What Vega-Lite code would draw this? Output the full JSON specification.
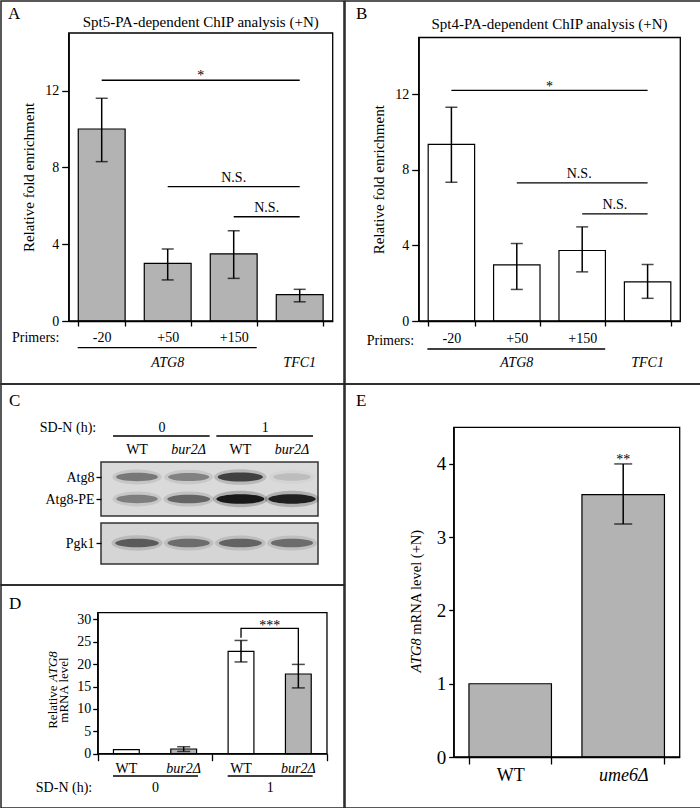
{
"$schema":"https://vega.github.io/schema/vega-lite/v6.json",
"padding":0,
"background":"white",
"bounds":"full",
"spacing":-1.5,
"datasets":{
 "chipA":[{"primer":"-20","mean":10.0,"lo":8.3,"hi":11.6},{"primer":"+50","mean":3.0,"lo":2.14,"hi":3.75},{"primer":"+150","mean":3.5,"lo":2.22,"hi":4.7},{"primer":"TFC1","mean":1.37,"lo":1.0,"hi":1.65}],
 "sigA":[{"id":"s1","from":"-20","to":"TFC1","y":12.54,"label":"*","at":"+150"},{"id":"s2","from":"+50","to":"TFC1","y":7.0,"label":"N.S.","at":"+150"},{"id":"s3","from":"+150","to":"TFC1","y":5.43,"label":"N.S.","at":"TFC1"}],
 "chipB":[{"primer":"-20","mean":9.34,"lo":7.34,"hi":11.31},{"primer":"+50","mean":2.97,"lo":1.67,"hi":4.1},{"primer":"+150","mean":3.73,"lo":2.6,"hi":4.98},{"primer":"TFC1","mean":2.07,"lo":1.2,"hi":2.99}],
 "sigB":[{"id":"s1","from":"-20","to":"TFC1","y":12.2,"label":"*","at":"+150"},{"id":"s2","from":"+50","to":"TFC1","y":7.31,"label":"N.S.","at":"+150"},{"id":"s3","from":"+150","to":"TFC1","y":5.67,"label":"N.S.","at":"TFC1"}],
 "genes":[{"gene":"ATG8","at":"+50"},{"gene":"TFC1","at":"TFC1"}],
 "lanes":[{"lane":"0-WT","time":"0","strain":"WT"},{"lane":"0-bur2","time":"0","strain":"bur2Δ"},{"lane":"1-WT","time":"1","strain":"WT"},{"lane":"1-bur2","time":"1","strain":"bur2Δ"}],
 "bands":[
  {"lane":"0-WT","protein":"Atg8","intensity":0.45},{"lane":"0-bur2","protein":"Atg8","intensity":0.4},{"lane":"1-WT","protein":"Atg8","intensity":0.75},{"lane":"1-bur2","protein":"Atg8","intensity":0.12},
  {"lane":"0-WT","protein":"Atg8-PE","intensity":0.42},{"lane":"0-bur2","protein":"Atg8-PE","intensity":0.55},{"lane":"1-WT","protein":"Atg8-PE","intensity":1.0},{"lane":"1-bur2","protein":"Atg8-PE","intensity":0.95},
  {"lane":"0-WT","protein":"Pgk1","intensity":0.6},{"lane":"0-bur2","protein":"Pgk1","intensity":0.5},{"lane":"1-WT","protein":"Pgk1","intensity":0.55},{"lane":"1-bur2","protein":"Pgk1","intensity":0.5}],
 "times":[{"time":"0","first":"0-WT","last":"0-bur2"},{"time":"1","first":"1-WT","last":"1-bur2"}],
 "mrnaD":[{"time":"0","strain":"WT","mean":0.9,"lo":null,"hi":null},{"time":"0","strain":"bur2Δ","mean":1.05,"lo":0.5,"hi":1.55},{"time":"1","strain":"WT","mean":22.86,"lo":20.5,"hi":25.3},{"time":"1","strain":"bur2Δ","mean":17.8,"lo":14.7,"hi":19.95}],
 "bracketD":[{"step":1,"time":"1","strain":"WT","v":25.9},{"step":2,"time":"1","strain":"WT","v":28.0},{"step":3,"time":"1","strain":"bur2Δ","v":28.0},{"step":4,"time":"1","strain":"bur2Δ","v":19.95}],
 "mrnaE":[{"strain":"WT","mean":1.0,"lo":null,"hi":null},{"strain":"ume6Δ","mean":3.58,"lo":3.18,"hi":4.0}]
},
"hconcat":[
 {"vconcat":[
  {"width":343,"height":383,
   "title":{"text":"A","offset":-22,"dx":7},
   "layer":[
    {"data":{"name":"chipA"},"mark":{"type":"bar","fill":"#b3b3b3","stroke":"black","strokeWidth":1.2},
     "encoding":{
      "x":{"field":"primer","type":"nominal","sort":null,"scale":{"domain":["-20","+50","+150","TFC1"],"range":[67.7,331.7],"paddingInner":0.29,"paddingOuter":0.145},"axis":{"offset":-63,"title":null,"tickBand":"extent","labelAngle":0,"labelExpr":"datum.value == 'TFC1' ? '' : datum.value","tickSize":5,"labelPadding":4}},
      "y":{"field":"mean","type":"quantitative","scale":{"domain":[0,15],"range":[320,32],"nice":false},"axis":{"offset":-67.7,"values":[0,4,8,12],"title":"Relative fold enrichment","tickSize":7,"labelPadding":3,"titlePadding":8}}}},
    {"data":{"values":[{}]},"mark":{"type":"rect","fillOpacity":0,"stroke":"black","strokeWidth":1.3,"xOffset":-33,"x2Offset":33},
     "encoding":{"x":{"datum":"-20","type":"nominal"},"x2":{"datum":"TFC1"},"y":{"datum":0,"type":"quantitative"},"y2":{"datum":15}}},
    {"data":{"name":"chipA"},"mark":{"type":"rule","strokeWidth":1.5,"color":"black"},"encoding":{"x":{"field":"primer","type":"nominal"},"y":{"field":"lo","type":"quantitative"},"y2":{"field":"hi"}}},
    {"data":{"name":"chipA"},"mark":{"type":"tick","orient":"horizontal","size":12,"thickness":1.5,"color":"black"},"encoding":{"x":{"field":"primer","type":"nominal"},"y":{"field":"lo","type":"quantitative"}}},
    {"data":{"name":"chipA"},"mark":{"type":"tick","orient":"horizontal","size":12,"thickness":1.5,"color":"black"},"encoding":{"x":{"field":"primer","type":"nominal"},"y":{"field":"hi","type":"quantitative"}}},
    {"data":{"name":"sigA"},"mark":{"type":"rule","strokeWidth":1.3,"color":"black"},"encoding":{"x":{"field":"from","type":"nominal"},"x2":{"field":"to"},"y":{"field":"y","type":"quantitative"}}},
    {"data":{"name":"sigA"},"transform":[{"filter":"datum.id == 's1'"}],"mark":{"type":"text","dx":-33,"dy":0,"baseline":"alphabetic","fontSize":14,"fill":"black"},"encoding":{"x":{"field":"at","type":"nominal"},"y":{"field":"y","type":"quantitative"},"text":{"field":"label"}}},
    {"data":{"name":"sigA"},"transform":[{"filter":"datum.id == 's3'"}],"mark":{"type":"text","dx":-33,"dy":-5,"baseline":"alphabetic","fontSize":14,"fill":"black"},"encoding":{"x":{"field":"at","type":"nominal"},"y":{"field":"y","type":"quantitative"},"text":{"field":"label"}}},
    {"data":{"name":"sigA"},"transform":[{"filter":"datum.id == 's2'"}],"mark":{"type":"text","dx":0,"dy":-5,"baseline":"alphabetic","fontSize":14,"fill":"black"},"encoding":{"x":{"field":"at","type":"nominal"},"y":{"field":"y","type":"quantitative"},"text":{"field":"label"}}},
    {"data":{"values":[{}]},"mark":{"type":"text","dx":-33,"dy":-6,"baseline":"alphabetic","fontSize":15},"encoding":{"x":{"datum":"+150","type":"nominal"},"y":{"datum":15,"type":"quantitative"},"text":{"value":"Spt5-PA-dependent ChIP analysis (+N)"}}},
    {"data":{"values":[{}]},"mark":{"type":"text","dx":-66,"dy":17,"baseline":"middle","fontSize":14},"encoding":{"x":{"datum":"-20","type":"nominal"},"y":{"datum":0,"type":"quantitative"},"text":{"value":"Primers:"}}},
    {"data":{"values":[{}]},"mark":{"type":"rule","strokeWidth":1.3,"color":"black","xOffset":-24,"x2Offset":23,"yOffset":26.7},"encoding":{"x":{"datum":"-20","type":"nominal"},"x2":{"datum":"+150"},"y":{"datum":0,"type":"quantitative"}}},
    {"data":{"name":"genes"},"mark":{"type":"text","dy":42,"baseline":"middle","fontSize":14,"fontStyle":"italic"},"encoding":{"x":{"field":"at","type":"nominal"},"y":{"datum":0,"type":"quantitative"},"text":{"field":"gene"}}}
   ]},
  {"width":343,"height":201,
   "title":{"text":"C","offset":-26,"dx":8},
   "resolve":{"scale":{"opacity":"independent","size":"independent"}},
   "layer":[
    {"data":{"values":[{}]},"mark":{"type":"rect","fill":"#dadada","stroke":"#333","strokeWidth":1.5,"xOffset":-36,"x2Offset":26,"yOffset":-15,"y2Offset":17},
     "encoding":{"x":{"datum":"0-WT","type":"nominal","scale":{"type":"point","domain":["0-WT","0-bur2","1-WT","1-bur2"],"range":[136,291],"padding":0},"axis":null},"x2":{"datum":"1-bur2"},
      "y":{"datum":"Atg8","type":"nominal","scale":{"type":"point","domain":["time","lane","Atg8","Atg8-PE","gap","Pgk1"],"range":[49,159],"padding":0},"axis":{"offset":-100,"values":["Atg8","Atg8-PE","Pgk1"],"title":null,"domain":false,"tickSize":5,"labelPadding":2}},"y2":{"datum":"Atg8-PE"}}},
    {"data":{"values":[{}]},"mark":{"type":"rect","fill":"#d5d5d5","stroke":"#333","strokeWidth":1.5,"xOffset":-36,"x2Offset":26,"yOffset":-20,"y2Offset":21},
     "encoding":{"x":{"datum":"0-WT","type":"nominal","scale":{"type":"point"},"axis":null},"x2":{"datum":"1-bur2"},"y":{"datum":"Pgk1","type":"nominal","scale":{"type":"point"}},"y2":{"datum":"Pgk1"}}},
    {"data":{"name":"bands"},"mark":{"type":"point","shape":"M-1,0A1,0.3,0,1,0,1,0A1,0.3,0,1,0,-1,0Z","filled":true,"color":"#111","strokeWidth":0},
     "encoding":{"x":{"field":"lane","type":"nominal","scale":{"type":"point"},"axis":null},"y":{"field":"protein","type":"nominal","scale":{"type":"point"}},
      "opacity":{"field":"intensity","type":"quantitative","scale":{"domain":[0,1],"range":[0,0.22]},"legend":null},
      "size":{"field":"intensity","type":"quantitative","scale":{"domain":[0,1],"range":[2000,3000]},"legend":null}}},
    {"data":{"name":"bands"},"mark":{"type":"point","shape":"M-1,0A1,0.2,0,1,0,1,0A1,0.2,0,1,0,-1,0Z","filled":true,"color":"#111","strokeWidth":0},
     "encoding":{"x":{"field":"lane","type":"nominal","scale":{"type":"point"},"axis":null},"y":{"field":"protein","type":"nominal","scale":{"type":"point"}},
      "opacity":{"field":"intensity","type":"quantitative","scale":{"domain":[0,1],"range":[0,0.95]},"legend":null},
      "size":{"field":"intensity","type":"quantitative","scale":{"domain":[0,1],"range":[1300,2300]},"legend":null}}},
    {"data":{"name":"times"},"mark":{"type":"text","dx":25,"dy":-5,"baseline":"middle","fontSize":14},"encoding":{"x":{"field":"first","type":"nominal","scale":{"type":"point"},"axis":null},"y":{"datum":"time","type":"nominal","scale":{"type":"point"}},"text":{"field":"time"}}},
    {"data":{"name":"times"},"mark":{"type":"rule","color":"black","strokeWidth":1.3,"xOffset":-24,"x2Offset":21,"yOffset":3},"encoding":{"x":{"field":"first","type":"nominal","scale":{"type":"point"},"axis":null},"x2":{"field":"last"},"y":{"datum":"time","type":"nominal","scale":{"type":"point"}}}},
    {"data":{"values":[{}]},"mark":{"type":"text","dx":-69,"dy":-5,"baseline":"middle","fontSize":14},"encoding":{"x":{"datum":"0-WT","type":"nominal","scale":{"type":"point"},"axis":null},"y":{"datum":"time","type":"nominal","scale":{"type":"point"}},"text":{"value":"SD-N (h):"}}},
    {"data":{"name":"lanes"},"transform":[{"filter":"datum.strain == 'WT'"}],"mark":{"type":"text","dy":-5,"baseline":"middle","fontSize":14},"encoding":{"x":{"field":"lane","type":"nominal","scale":{"type":"point"},"axis":null},"y":{"datum":"lane","type":"nominal","scale":{"type":"point"}},"text":{"field":"strain"}}},
    {"data":{"name":"lanes"},"transform":[{"filter":"datum.strain != 'WT'"}],"mark":{"type":"text","dy":-5,"baseline":"middle","fontSize":14,"fontStyle":"italic"},"encoding":{"x":{"field":"lane","type":"nominal","scale":{"type":"point"},"axis":null},"y":{"datum":"lane","type":"nominal","scale":{"type":"point"}},"text":{"field":"strain"}}}
   ]},
  {"width":343,"height":223,
   "title":{"text":"D","offset":-28,"dx":8},
   "layer":[
    {"data":{"name":"mrnaD"},"mark":{"type":"bar","stroke":"black","strokeWidth":1.2},
     "encoding":{
      "x":{"field":"time","type":"nominal","scale":{"domain":["0","1"],"range":[96.7,326],"paddingInner":0,"paddingOuter":0},"axis":{"offset":-54.3,"title":null,"tickBand":"extent","labelAngle":0,"tickSize":7,"labelPadding":20}},
      "xOffset":{"field":"strain","type":"nominal","scale":{"domain":["WT","bur2Δ"],"paddingInner":0.55,"paddingOuter":0.275}},
      "y":{"field":"mean","type":"quantitative","scale":{"domain":[0,31.5],"range":[168.7,27.7],"nice":false},"axis":{"offset":-96.7,"values":[0,5,10,15,20,25,30],"tickCount":7,"labelOverlap":false,"title":null,"tickSize":5,"labelPadding":2}},
      "fill":{"field":"strain","type":"nominal","scale":{"domain":["WT","bur2Δ"],"range":["white","#b3b3b3"]},"legend":null}}},
    {"data":{"values":[{}]},"mark":{"type":"rect","fillOpacity":0,"stroke":"black","strokeWidth":1.3,"xOffset":-57.3,"x2Offset":57.3},
     "encoding":{"x":{"datum":"0","type":"nominal"},"x2":{"datum":"1"},"y":{"datum":0,"type":"quantitative"},"y2":{"datum":31.5}}},
    {"data":{"name":"mrnaD"},"mark":{"type":"rule","strokeWidth":1.5,"color":"black"},"encoding":{"x":{"field":"time","type":"nominal"},"xOffset":{"field":"strain","type":"nominal"},"y":{"field":"lo","type":"quantitative"},"y2":{"field":"hi"}}},
    {"data":{"name":"mrnaD"},"mark":{"type":"tick","orient":"horizontal","size":13,"thickness":1.5,"color":"black"},"encoding":{"x":{"field":"time","type":"nominal"},"xOffset":{"field":"strain","type":"nominal"},"y":{"field":"lo","type":"quantitative"}}},
    {"data":{"name":"mrnaD"},"mark":{"type":"tick","orient":"horizontal","size":13,"thickness":1.5,"color":"black"},"encoding":{"x":{"field":"time","type":"nominal"},"xOffset":{"field":"strain","type":"nominal"},"y":{"field":"hi","type":"quantitative"}}},
    {"data":{"name":"bracketD"},"mark":{"type":"line","color":"black","strokeWidth":1.3},"encoding":{"x":{"field":"time","type":"nominal"},"xOffset":{"field":"strain","type":"nominal"},"y":{"field":"v","type":"quantitative"},"order":{"field":"step","type":"quantitative"}}},
    {"data":{"values":[{}]},"mark":{"type":"text","dy":2,"baseline":"alphabetic","fontSize":14,"fill":"black"},"encoding":{"x":{"datum":"1","type":"nominal"},"y":{"datum":28,"type":"quantitative"},"text":{"value":"***"}}},
    {"data":{"name":"mrnaD"},"transform":[{"filter":"datum.strain == 'WT'"}],"mark":{"type":"text","dy":15.3,"baseline":"middle","fontSize":14},"encoding":{"x":{"field":"time","type":"nominal"},"xOffset":{"field":"strain","type":"nominal"},"y":{"datum":0,"type":"quantitative"},"text":{"field":"strain"}}},
    {"data":{"name":"mrnaD"},"transform":[{"filter":"datum.strain != 'WT'"}],"mark":{"type":"text","dy":15.3,"baseline":"middle","fontSize":14,"fontStyle":"italic"},"encoding":{"x":{"field":"time","type":"nominal"},"xOffset":{"field":"strain","type":"nominal"},"y":{"datum":0,"type":"quantitative"},"text":{"field":"strain"}}},
    {"data":{"name":"times"},"mark":{"type":"rule","color":"black","strokeWidth":1.3,"xOffset":-42,"x2Offset":43,"yOffset":22.3},"encoding":{"x":{"field":"time","type":"nominal"},"x2":{"field":"time"},"y":{"datum":0,"type":"quantitative"}}},
    {"data":{"values":[{}]},"mark":{"type":"text","dx":-91,"dy":34.3,"baseline":"middle","fontSize":14},"encoding":{"x":{"datum":"0","type":"nominal"},"y":{"datum":0,"type":"quantitative"},"text":{"value":"SD-N (h):"}}},
    {"data":{"values":[{}]},"mark":{"type":"text","angle":270,"align":"left","baseline":"middle","fontSize":13,"dx":24.9,"dy":-102},"encoding":{"x":{"datum":"0","type":"nominal"},"y":{"datum":0,"type":"quantitative"},"text":{"value":"Relative"}}},
    {"data":{"values":[{}]},"mark":{"type":"text","angle":270,"align":"right","baseline":"middle","fontSize":13,"fontStyle":"italic","dx":102.5,"dy":-102},"encoding":{"x":{"datum":"0","type":"nominal"},"y":{"datum":0,"type":"quantitative"},"text":{"value":"ATG8"}}},
    {"data":{"values":[{}]},"mark":{"type":"text","angle":270,"align":"center","baseline":"middle","fontSize":13,"dx":63.7,"dy":-91},"encoding":{"x":{"datum":"0","type":"nominal"},"y":{"datum":0,"type":"quantitative"},"text":{"value":"mRNA level"}}}
   ]}
 ],"spacing":0,"bounds":"flush"},
 {"vconcat":[
  {"width":356,"height":383,
   "title":{"text":"B","offset":-22,"dx":11},
   "layer":[
    {"data":{"name":"chipB"},"mark":{"type":"bar","fill":"white","stroke":"black","strokeWidth":1.2},
     "encoding":{
      "x":{"field":"primer","type":"nominal","sort":null,"scale":{"domain":["-20","+50","+150","TFC1"],"range":[73.7,335.3],"paddingInner":0.29,"paddingOuter":0.145},"axis":{"offset":-63,"title":null,"tickBand":"extent","labelAngle":0,"labelExpr":"datum.value == 'TFC1' ? '' : datum.value","tickSize":5,"labelPadding":5}},
      "y":{"field":"mean","type":"quantitative","scale":{"domain":[0,15],"range":[320,36.5],"nice":false},"axis":{"offset":-73.7,"values":[0,4,8,12],"title":"Relative fold enrichment","tickSize":7,"labelPadding":3,"titlePadding":8}}}},
    {"data":{"values":[{}]},"mark":{"type":"rect","fillOpacity":0,"stroke":"black","strokeWidth":1.3,"xOffset":-32.7,"x2Offset":32.7},
     "encoding":{"x":{"datum":"-20","type":"nominal"},"x2":{"datum":"TFC1"},"y":{"datum":0,"type":"quantitative"},"y2":{"datum":15}}},
    {"data":{"name":"chipB"},"mark":{"type":"rule","strokeWidth":1.5,"color":"black"},"encoding":{"x":{"field":"primer","type":"nominal"},"y":{"field":"lo","type":"quantitative"},"y2":{"field":"hi"}}},
    {"data":{"name":"chipB"},"mark":{"type":"tick","orient":"horizontal","size":12,"thickness":1.5,"color":"black"},"encoding":{"x":{"field":"primer","type":"nominal"},"y":{"field":"lo","type":"quantitative"}}},
    {"data":{"name":"chipB"},"mark":{"type":"tick","orient":"horizontal","size":12,"thickness":1.5,"color":"black"},"encoding":{"x":{"field":"primer","type":"nominal"},"y":{"field":"hi","type":"quantitative"}}},
    {"data":{"name":"sigB"},"mark":{"type":"rule","strokeWidth":1.3,"color":"black"},"encoding":{"x":{"field":"from","type":"nominal"},"x2":{"field":"to"},"y":{"field":"y","type":"quantitative"}}},
    {"data":{"name":"sigB"},"transform":[{"filter":"datum.id == 's1'"}],"mark":{"type":"text","dx":-32.7,"dy":1,"baseline":"alphabetic","fontSize":14,"fill":"black"},"encoding":{"x":{"field":"at","type":"nominal"},"y":{"field":"y","type":"quantitative"},"text":{"field":"label"}}},
    {"data":{"name":"sigB"},"transform":[{"filter":"datum.id == 's3'"}],"mark":{"type":"text","dx":-32.7,"dy":-5,"baseline":"alphabetic","fontSize":14,"fill":"black"},"encoding":{"x":{"field":"at","type":"nominal"},"y":{"field":"y","type":"quantitative"},"text":{"field":"label"}}},
    {"data":{"name":"sigB"},"transform":[{"filter":"datum.id == 's2'"}],"mark":{"type":"text","dx":-3,"dy":-5,"baseline":"alphabetic","fontSize":14,"fill":"black"},"encoding":{"x":{"field":"at","type":"nominal"},"y":{"field":"y","type":"quantitative"},"text":{"field":"label"}}},
    {"data":{"values":[{}]},"mark":{"type":"text","dx":-32.7,"dy":-9,"baseline":"alphabetic","fontSize":15},"encoding":{"x":{"datum":"+150","type":"nominal"},"y":{"datum":15,"type":"quantitative"},"text":{"value":"Spt4-PA-dependent ChIP analysis (+N)"}}},
    {"data":{"values":[{}]},"mark":{"type":"text","dx":-61,"dy":20,"baseline":"middle","fontSize":14},"encoding":{"x":{"datum":"-20","type":"nominal"},"y":{"datum":0,"type":"quantitative"},"text":{"value":"Primers:"}}},
    {"data":{"values":[{}]},"mark":{"type":"rule","strokeWidth":1.3,"color":"black","xOffset":-24,"x2Offset":23,"yOffset":28},"encoding":{"x":{"datum":"-20","type":"nominal"},"x2":{"datum":"+150"},"y":{"datum":0,"type":"quantitative"}}},
    {"data":{"name":"genes"},"mark":{"type":"text","dy":42,"baseline":"middle","fontSize":14,"fontStyle":"italic"},"encoding":{"x":{"field":"at","type":"nominal"},"y":{"datum":0,"type":"quantitative"},"text":{"field":"gene"}}}
   ]},
  {"width":356,"height":424,
   "title":{"text":"E","offset":-26,"dx":11},
   "layer":[
    {"data":{"name":"mrnaE"},"mark":{"type":"bar","fill":"#b3b3b3","stroke":"black","strokeWidth":1.2},
     "encoding":{
      "x":{"field":"strain","type":"nominal","sort":null,"scale":{"domain":["WT","ume6Δ"],"range":[108.7,334.7],"paddingInner":0.27,"paddingOuter":0.135},"axis":{"offset":-51,"title":null,"tickBand":"extent","labelAngle":0,"tickSize":7,"labelPadding":2,"labelFontSize":18,"labelFontStyle":{"condition":{"test":"datum.value != 'WT'","value":"italic"},"value":"normal"}}},
      "y":{"field":"mean","type":"quantitative","scale":{"domain":[0,4.5],"range":[373,43.3],"nice":false},"axis":{"offset":-108.7,"values":[0,1,2,3,4],"format":"d","title":null,"tickSize":5,"labelPadding":3,"labelFontSize":19}}}},
    {"data":{"values":[{}]},"mark":{"type":"rect","fillOpacity":0,"stroke":"black","strokeWidth":1.3,"xOffset":-56.5,"x2Offset":56.5},
     "encoding":{"x":{"datum":"WT","type":"nominal"},"x2":{"datum":"ume6Δ"},"y":{"datum":0,"type":"quantitative"},"y2":{"datum":4.5}}},
    {"data":{"name":"mrnaE"},"mark":{"type":"rule","strokeWidth":1.5,"color":"black"},"encoding":{"x":{"field":"strain","type":"nominal"},"y":{"field":"lo","type":"quantitative"},"y2":{"field":"hi"}}},
    {"data":{"name":"mrnaE"},"mark":{"type":"tick","orient":"horizontal","size":18,"thickness":1.5,"color":"black"},"encoding":{"x":{"field":"strain","type":"nominal"},"y":{"field":"lo","type":"quantitative"}}},
    {"data":{"name":"mrnaE"},"mark":{"type":"tick","orient":"horizontal","size":18,"thickness":1.5,"color":"black"},"encoding":{"x":{"field":"strain","type":"nominal"},"y":{"field":"hi","type":"quantitative"}}},
    {"data":{"values":[{}]},"mark":{"type":"text","dy":0,"baseline":"alphabetic","fontSize":14,"fill":"black"},"encoding":{"x":{"datum":"ume6Δ","type":"nominal"},"y":{"datum":4.0,"type":"quantitative"},"text":{"value":"**"}}},
    {"data":{"values":[{}]},"mark":{"type":"text","angle":270,"align":"right","baseline":"middle","fontSize":14.5,"fontStyle":"italic","dx":118.7,"dy":-93.2},"encoding":{"x":{"datum":"WT","type":"nominal"},"y":{"datum":0,"type":"quantitative"},"text":{"value":"ATG8"}}},
    {"data":{"values":[{}]},"mark":{"type":"text","angle":270,"align":"left","baseline":"middle","fontSize":14.5,"dx":122.3,"dy":-93.2},"encoding":{"x":{"datum":"WT","type":"nominal"},"y":{"datum":0,"type":"quantitative"},"text":{"value":"mRNA level (+N)"}}}
   ]}
 ],"spacing":0,"bounds":"flush"}
],
"config":{
 "font":"Liberation Serif",
 "view":{"stroke":"#222","strokeWidth":1.5},
 "axis":{"labelFont":"Liberation Serif","titleFont":"Liberation Serif","labelFontSize":14,"titleFontSize":15,"titleFontWeight":"normal","labelColor":"black","titleColor":"black","domainColor":"black","tickColor":"black","domainWidth":1.3,"tickWidth":1.3,"grid":false,"labelFlush":false,"labelOverlap":false},
 "text":{"font":"Liberation Serif","fontSize":14,"color":"black"},
 "title":{"font":"Liberation Serif","fontSize":17,"fontWeight":"normal","anchor":"start","frame":"group","baseline":"alphabetic","color":"black"}
}
}
